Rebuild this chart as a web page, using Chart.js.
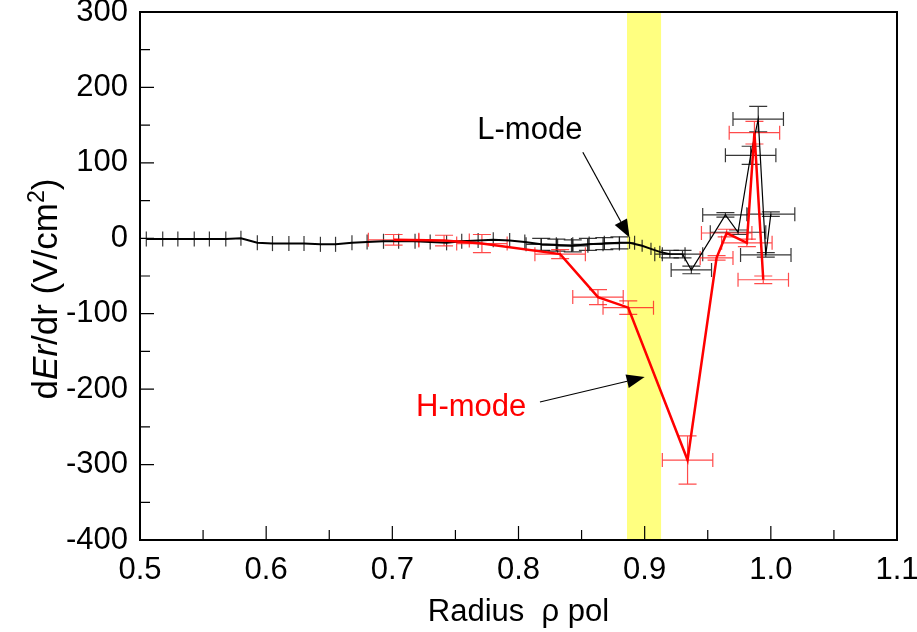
<!DOCTYPE html>
<html>
<head>
<meta charset="utf-8">
<script src="https://cdn.jsdelivr.net/npm/chart.js@4.4.1/dist/chart.umd.min.js"></script>
<style>
  body { margin: 0; background: #fff; }
  #wrap { width: 917px; height: 632px; }
</style>
</head>
<body>
<div id="wrap"><canvas id="erChart" width="917" height="632"></canvas></div>
<script>
// L-mode profile (black)
const lX = [0.505, 0.518, 0.530, 0.543, 0.555, 0.568, 0.580, 0.593, 0.605, 0.618, 0.630, 0.643, 0.655, 0.668,
            0.680, 0.693, 0.705, 0.718, 0.730, 0.743, 0.755, 0.768, 0.780, 0.793, 0.805, 0.818, 0.830, 0.843,
            0.855, 0.868, 0.880, 0.888, 0.898, 0.905, 0.912, 0.920, 0.930, 0.937, 0.964, 0.974, 0.984, 0.990,
            0.996, 1.000];
const lY = [-1, -1, -1, -1, -1, -1, 0, -6, -7, -7, -7, -8, -8, -6,
            -5, -4, -4, -4, -5, -6, -4, -3, -2, -3, -5, -8, -9, -10,
            -8, -7, -6, -6, -10, -14, -18, -21, -21, -42, 31, 8, 110, 158,
            -22, 32];
const lXErr = [0, 0, 0, 0, 0, 0, 0, 0, 0, 0, 0, 0, 0, 0,
               0, 0, 0, 0, 0, 0, 0, 0, 0, 0, 0, 0.012, 0.012, 0.012,
               0.012, 0.012, 0.012, 0, 0, 0, 0, 0.012, 0.016, 0.016, 0.018, 0.022, 0.02, 0.02,
               0.02, 0.019];
const lYErr = [10, 10, 10, 10, 10, 10, 10, 10, 10, 10, 10, 10, 10, 10,
               10, 10, 10, 10, 10, 10, 10, 10, 10, 10, 10, 8, 8, 8,
               8, 8, 8, 8, 8, 8, 8, 5, 5, 5, 3, 3, 12, 17,
               3, 3];

// H-mode profile (red)
const hX = [0.701, 0.741, 0.771, 0.833, 0.863, 0.887, 0.934, 0.957, 0.965, 0.981, 0.987, 0.994];
const hY = [-2, -3, -7, -21, -78, -92, -294, -26, 7, -6, 140, -55];
const hXErr = [0.02, 0.02, 0.02, 0.02, 0.02, 0.02, 0.02, 0.013, 0.02, 0.02, 0.02, 0.02];
const hYErr = [7, 7, 12, 6, 10, 9, 32, 3, 5, 5, 15, 5];

// shaded radial band
const band = [0.886, 0.913];

// annotations: text label position, arrow tail, arrow tip (data units)
const labels = [
  { text: 'L-mode', color: '#000', at: [0.809, 143], tail: [0.851, 114], tip: [0.888, 1] },
  { text: 'H-mode', color: '#ff0000', at: [0.7625, -224], tail: [0.817, -217], tip: [0.900, -184] }
];

function toPoints(xs, ys, xe, ye) {
  return xs.map((x, i) => ({ x: x, y: ys[i], xErr: xe[i], yErr: ye[i] }));
}

const FONT = '"Liberation Sans", Arial, sans-serif';

const bandPlugin = {
  id: 'band',
  beforeDatasetsDraw(chart) {
    const { ctx, chartArea, scales } = chart;
    const x0 = scales.x.getPixelForValue(band[0]);
    const x1 = scales.x.getPixelForValue(band[1]);
    ctx.save();
    ctx.fillStyle = '#ffff80';
    ctx.fillRect(x0, chartArea.top, x1 - x0, chartArea.bottom - chartArea.top);
    ctx.restore();
  }
};

const errorBarPlugin = {
  id: 'errorBars',
  beforeDatasetsDraw(chart) {
    const { ctx, scales } = chart;
    const xs = scales.x, ys = scales.y;
    ctx.save();
    chart.data.datasets.slice().reverse().forEach(ds => {
      ctx.strokeStyle = ds.errColor;
      ctx.lineWidth = 1.2;
      ds.data.forEach(p => {
        const px = xs.getPixelForValue(p.x), py = ys.getPixelForValue(p.y);
        const yt = ys.getPixelForValue(p.y + p.yErr), yb = ys.getPixelForValue(p.y - p.yErr);
        ctx.beginPath();
        if (p.xErr > 0) {
          const xl = xs.getPixelForValue(p.x - p.xErr), xr = xs.getPixelForValue(p.x + p.xErr);
          ctx.moveTo(xl, py); ctx.lineTo(xr, py);
          ctx.moveTo(xl, py - 7); ctx.lineTo(xl, py + 7);
          ctx.moveTo(xr, py - 7); ctx.lineTo(xr, py + 7);
        }
        ctx.moveTo(px, yt); ctx.lineTo(px, yb);
        if (p.xErr >= 0.01) {
          ctx.moveTo(px - 9, yt); ctx.lineTo(px + 9, yt);
          ctx.moveTo(px - 9, yb); ctx.lineTo(px + 9, yb);
        }
        ctx.stroke();
      });
    });
    ctx.restore();
  }
};

const framePlugin = {
  id: 'frame',
  afterDraw(chart) {
    const { ctx, chartArea: a, scales } = chart;
    ctx.save();
    ctx.strokeStyle = '#000';
    ctx.lineWidth = 2;
    ctx.strokeRect(a.left, a.top, a.right - a.left, a.bottom - a.top);

    // inward ticks, major and minor
    ctx.lineWidth = 1.2;
    ctx.beginPath();
    for (let v = -400; v <= 300; v += 50) {
      const y = scales.y.getPixelForValue(v);
      const len = v % 100 === 0 ? 14 : 10;
      ctx.moveTo(a.left, y); ctx.lineTo(a.left + len, y);
    }
    for (let k = 0; k <= 12; k++) {
      const x = scales.x.getPixelForValue(0.5 + k * 0.05);
      const len = k % 2 === 0 ? 14 : 10;
      ctx.moveTo(x, a.bottom); ctx.lineTo(x, a.bottom - len);
    }
    ctx.stroke();

    // annotations with arrows
    labels.forEach(l => {
      const tx = scales.x.getPixelForValue(l.at[0]), ty = scales.y.getPixelForValue(l.at[1]);
      ctx.fillStyle = l.color;
      ctx.font = '31px ' + FONT;
      ctx.textAlign = 'center';
      ctx.textBaseline = 'middle';
      ctx.fillText(l.text, tx, ty);
      const x0 = scales.x.getPixelForValue(l.tail[0]), y0 = scales.y.getPixelForValue(l.tail[1]);
      const x1 = scales.x.getPixelForValue(l.tip[0]), y1 = scales.y.getPixelForValue(l.tip[1]);
      const ang = Math.atan2(y1 - y0, x1 - x0);
      const hl = 18, hw = 7;
      const bx = x1 - hl * Math.cos(ang), by = y1 - hl * Math.sin(ang);
      ctx.strokeStyle = '#000';
      ctx.lineWidth = 1.2;
      ctx.beginPath();
      ctx.moveTo(x0, y0); ctx.lineTo(bx, by);
      ctx.stroke();
      ctx.fillStyle = '#000';
      ctx.beginPath();
      ctx.moveTo(x1, y1);
      ctx.lineTo(bx + hw * Math.sin(ang), by - hw * Math.cos(ang));
      ctx.lineTo(bx - hw * Math.sin(ang), by + hw * Math.cos(ang));
      ctx.closePath();
      ctx.fill();
    });

    // axis titles
    ctx.fillStyle = '#000';
    ctx.textBaseline = 'alphabetic';
    ctx.textAlign = 'center';
    ctx.font = '31px ' + FONT;
    ctx.fillText('Radius  \u03c1 pol', (a.left + a.right) / 2, 621);

    const parts = [
      { t: 'd', f: '35px ' + FONT, dy: 0 },
      { t: 'Er', f: 'italic 35px ' + FONT, dy: 0 },
      { t: '/dr (V/cm', f: '35px ' + FONT, dy: 0 },
      { t: '2', f: '23px ' + FONT, dy: -13 },
      { t: ')', f: '35px ' + FONT, dy: 0 }
    ];
    let total = 0;
    parts.forEach(p => { ctx.font = p.f; p.w = ctx.measureText(p.t).width; total += p.w; });
    ctx.translate(57, 289);
    ctx.rotate(-Math.PI / 2);
    ctx.textAlign = 'left';
    let cx = -total / 2;
    parts.forEach(p => { ctx.font = p.f; ctx.fillText(p.t, cx, p.dy); cx += p.w; });
    ctx.restore();
  }
};

new Chart(document.getElementById('erChart').getContext('2d'), {
  type: 'scatter',
  data: {
    datasets: [
      {
        label: 'H-mode',
        data: toPoints(hX, hY, hXErr, hYErr),
        showLine: true,
        borderColor: '#ff0000',
        borderWidth: 2.5,
        pointRadius: 0,
        errColor: 'rgba(255,30,30,0.8)'
      },
      {
        label: 'L-mode',
        data: toPoints(lX, lY, lXErr, lYErr),
        showLine: true,
        borderColor: '#000',
        borderWidth: 2,
        pointRadius: 0,
        errColor: 'rgba(20,20,20,0.85)',
        segment: {
          borderWidth: c => c.p0.parsed.x >= 0.92 ? 1.2 : 2
        }
      }
    ]
  },
  options: {
    responsive: false,
    animation: false,
    devicePixelRatio: 1,
    layout: { padding: { top: 12, right: 20, left: 0, bottom: 0 } },
    plugins: { legend: { display: false }, tooltip: { enabled: false } },
    scales: {
      x: {
        type: 'linear',
        min: 0.5,
        max: 1.1,
        grid: { display: false, drawTicks: false },
        border: { display: false },
        ticks: {
          stepSize: 0.1,
          color: '#000',
          font: { family: FONT, size: 31 },
          padding: 12,
          maxRotation: 0,
          callback: v => v.toFixed(1)
        },
        afterFit: s => { s.height = 92; s.paddingLeft = 0; s.paddingRight = 0; }
      },
      y: {
        type: 'linear',
        min: -400,
        max: 300,
        grid: { display: false, drawTicks: false },
        border: { display: false },
        ticks: {
          stepSize: 100,
          color: '#000',
          font: { family: FONT, size: 31 },
          padding: 12
        },
        afterFit: s => { s.width = 140; s.paddingTop = 0; s.paddingBottom = 0; }
      }
    }
  },
  plugins: [bandPlugin, errorBarPlugin, framePlugin]
});
</script>
</body>
</html>
